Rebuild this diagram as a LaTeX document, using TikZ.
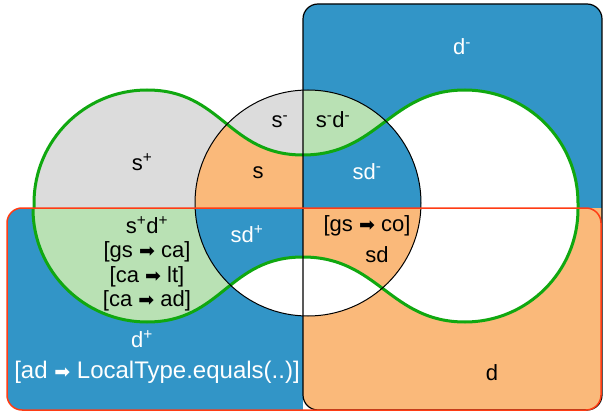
\documentclass[tikz,border=0pt]{standalone}
\usepackage{fontspec}
\setmainfont{Liberation Sans}
\newfontfamily\arrowfont{DejaVu Sans}
\usetikzlibrary{positioning}
\definecolor{blue}{HTML}{3295C7}
\definecolor{orange}{HTML}{FAB97A}
\definecolor{gray}{HTML}{DCDCDC}
\definecolor{lightgreen}{HTML}{B9E1B4}
\definecolor{green}{HTML}{10A810}
\definecolor{red}{HTML}{FF3C14}
\newcommand{\toarr}{{\arrowfont\fontsize{19}{20}\selectfont ➡}}
% the two green curves and the middle circle
\newcommand{\topgreen}{(34,208) -- (34,203) .. controls (34,140.6) and (84.6,90) .. (147,90)
  .. controls (222,90) and (228,155) .. (303,155) .. controls (378,155) and (390,90) .. (465,90)
  .. controls (527.4,90) and (578,140.6) .. (578,203) -- (578,208)}
\newcommand{\botgreen}{(33,208) -- (33,209) .. controls (33,271.4) and (84.6,322) .. (147,322)
  .. controls (222,322) and (228,257) .. (303,257) .. controls (378,257) and (390,322) .. (465,322)
  .. controls (527.4,322) and (578,271.4) .. (578,209) -- (578,208)}
\newcommand{\midcircle}{(308,203) circle[radius=113pt]}
\begin{document}
\begin{tikzpicture}[x=1pt, y=-1pt,
    lbl/.style={font=\fontsize{22}{24.5}\selectfont, inner sep=0pt, anchor=base, align=center},
    wlbl/.style={lbl, text=white},
    box/.style={rounded corners=15pt}
  ]
    \useasboundingbox (0,0) rectangle (603,412);

    % d- / d base (black box)
    \begin{scope}
      \clip[box] (303,4) rectangle (602,410);
      \fill[blue] (303,0) rectangle (603,208);
      \fill[orange] (303,208) rectangle (603,412);
    \end{scope}
    % d+ base (red box)
    \begin{scope}
      \clip[box] (7,208) rectangle (601,410);
      \fill[blue] (0,208) rectangle (303,412);
    \end{scope}

    % Top-left
    \begin{scope}
      \clip (0,0) rectangle (303,208);
      \fill[gray] \topgreen -- cycle;
      \fill[gray] \midcircle;
      \clip \topgreen -- cycle;
      \fill[orange] \midcircle;
    \end{scope}
    % Top-right
    \begin{scope}
      \clip (303,0) rectangle (603,208);
      \fill[white] \topgreen -- cycle;
      \fill[lightgreen] \midcircle;
      \clip \topgreen -- cycle;
      \fill[blue] \midcircle;
    \end{scope}
    % Bottom-left
    \begin{scope}
      \clip (0,208) rectangle (303,412);
      \fill[lightgreen] \botgreen -- cycle;
      \fill[white] \midcircle;
      \clip \botgreen -- cycle;
      \fill[blue] \midcircle;
    \end{scope}
    % Bottom-right
    \begin{scope}
      \clip (303,208) rectangle (603,412);
      \fill[white] \botgreen -- cycle;
      \fill[white] \midcircle;
      \clip \botgreen -- cycle;
      \fill[orange] \midcircle;
    \end{scope}

    % outlines
    \draw[green, line width=3pt] \topgreen;
    \draw[green, line width=3pt] \botgreen;
    \draw[black, line width=1pt] \midcircle;
    \draw[black, line width=1.2pt, box] (303,4) rectangle (602,410);
    \draw[red, line width=1.5pt, box] (7,208) rectangle (601,410);

    % labels
    \node[wlbl] (dminus) at (462,55) {d\textsuperscript{-}};
    \node[lbl] (splus) at (142,170) {s\textsuperscript{+}};
    \node[lbl] (sminus) at (280,128) {s\textsuperscript{-}};
    \node[lbl] (s) at (258,178) {s};
    \node[lbl] (smdm) at (333,128) {s\textsuperscript{-}d\textsuperscript{-}};
    \node[wlbl] (sdminus) at (367,179) {sd\textsuperscript{-}};
    \node[lbl] (spdp) at (147,306.5) {s\textsuperscript{+}d\textsuperscript{+}\\
      {[}gs \toarr{} ca]\\ {[}ca \toarr{} lt]\\ {[}ca \toarr{} ad]};
    \node[wlbl] (sdplus) at (247,242) {sd\textsuperscript{+}};
    \node[wlbl] (dplus) at (142,347) {d\textsuperscript{+}};
    \node[wlbl, font=\fontsize{24}{26}\selectfont] (dpcode) at (157,378) {[ad \toarr{} LocalType.equals(..)]};
    \node[lbl] (sdcode) at (367,231) {[gs \toarr{} co]};
    \node[lbl] (sd) at (377,262) {sd};
    \node[lbl] (d) at (492,380) {d};
  \end{tikzpicture}
\end{document}
